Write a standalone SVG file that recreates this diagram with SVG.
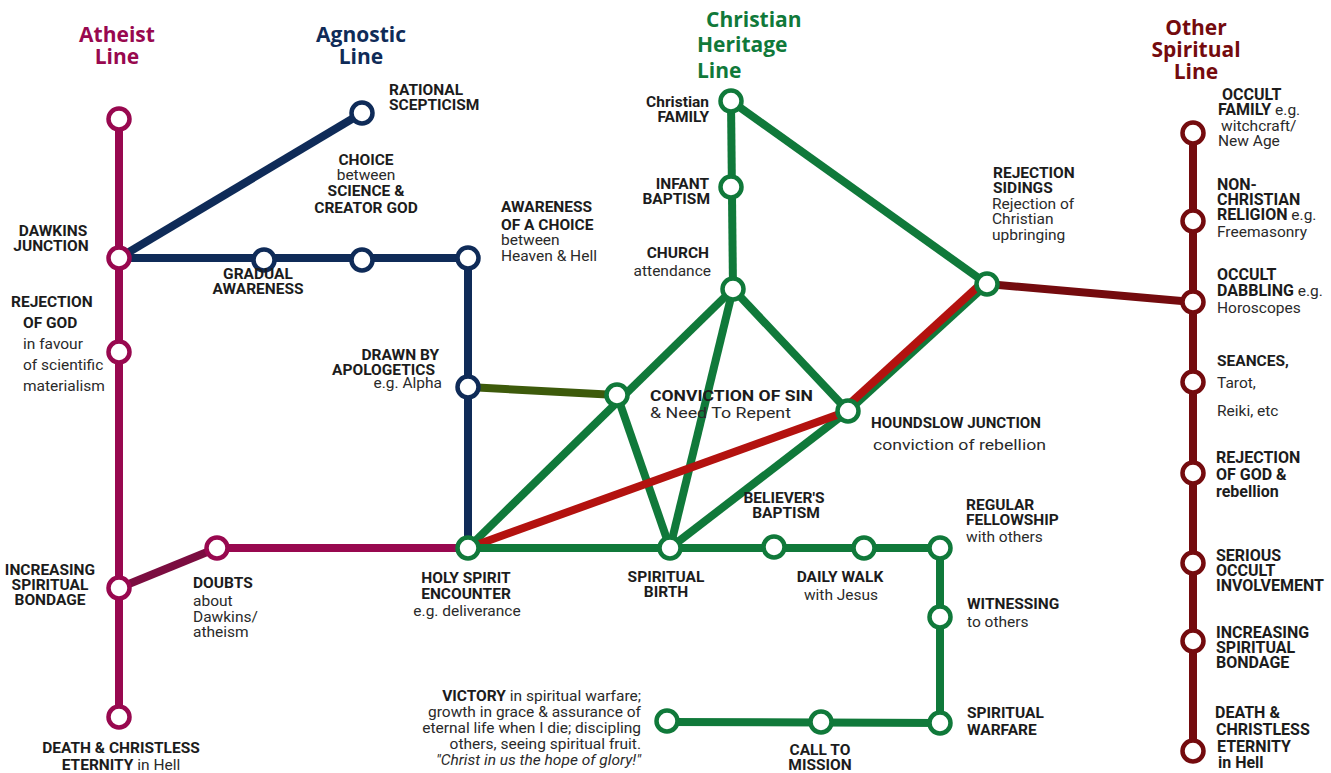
<svg xmlns="http://www.w3.org/2000/svg" width="1331" height="773" viewBox="0 0 1331 773">
<style>
.ln{fill:none;stroke-width:8;stroke-linecap:butt}
.st{fill:#fff;stroke-width:4.5}
.b{font-family:Roboto,"Liberation Sans",sans-serif;font-weight:700;font-size:15.5px;fill:#1c1c1c}
.r{font-family:Roboto,"Liberation Sans",sans-serif;font-weight:400;font-size:15.5px;fill:#2a2a2a}
.o{font-size:16px}
.t{font-family:"Open Sans","Liberation Sans",sans-serif;font-weight:700;font-size:21px}
.ath{stroke:#98084f}.agn{stroke:#0f2b58}.chr{stroke:#10793a}.oth{stroke:#740b0e}
</style>
<rect width="1331" height="773" fill="#fff"/>
<g id="titles">
<text class="t" fill="#98084f" text-anchor="middle"><tspan x="117" y="42">Atheist</tspan><tspan x="117" y="64">Line</tspan></text>
<text class="t" fill="#0f2b58" text-anchor="middle"><tspan x="361" y="42">Agnostic</tspan><tspan x="361" y="64">Line</tspan></text>
<text class="t" fill="#10793a"><tspan x="706" y="27">Christian</tspan><tspan x="697" y="52">Heritage</tspan><tspan x="697" y="78">Line</tspan></text>
<text class="t" fill="#740b0e" text-anchor="middle"><tspan x="1196" y="35">Other</tspan><tspan x="1196" y="57">Spiritual</tspan><tspan x="1196" y="79">Line</tspan></text>
</g>
<g id="connectors">
<line class="ln ath" x1="119" y1="119" x2="119" y2="717"/>
<line class="ln" stroke="#7b0d40" stroke-width="9" x1="119" y1="588" x2="217" y2="548"/>
<line class="ln ath" x1="217" y1="548" x2="468" y2="548"/>
<line class="ln agn" x1="119" y1="258" x2="362" y2="113"/>
<line class="ln agn" x1="119" y1="258" x2="468" y2="258"/>
<line class="ln agn" x1="468" y1="258" x2="468" y2="548"/>
<line class="ln" stroke="#3d5a0b" x1="468" y1="387" x2="617" y2="395"/>
<line class="ln chr" x1="731" y1="101" x2="733" y2="289"/>
<line class="ln chr" x1="731" y1="101" x2="987" y2="284"/>
<line class="ln chr" x1="468" y1="548" x2="733" y2="289"/>
<line class="ln chr" x1="617" y1="395" x2="670" y2="548"/>
<line class="ln chr" x1="733" y1="289" x2="670" y2="548"/>
<line class="ln chr" x1="733" y1="289" x2="848" y2="411"/>
<line class="ln chr" x1="848" y1="411" x2="670" y2="548"/>
<line class="ln chr" stroke-width="10" x1="848" y1="411" x2="987" y2="284"/>
<line class="ln" stroke="#b3120f" stroke-width="6" x1="845" y1="408" x2="984" y2="281"/>
<line class="ln" stroke="#b3120f" x1="468" y1="548" x2="848" y2="411"/>
<polyline class="ln chr" points="468,548 940,548 940,723 667,722"/>
<line class="ln oth" x1="1193" y1="133" x2="1193" y2="751"/>
<line class="ln oth" x1="987" y1="284" x2="1193" y2="302"/>
</g>
<g id="n-atheist-top"><circle class="st ath" cx="119" cy="119" r="10.5"/></g>
<g id="n-dawkins"><circle class="st ath" cx="119" cy="258" r="10.5"/>
<text class="b" text-anchor="middle"><tspan x="53" y="236">DAWKINS</tspan><tspan x="51" y="251">JUNCTION</tspan></text></g>
<g id="n-rejection-god"><circle class="st ath" cx="119" cy="352" r="10.5"/>
<text class="b"><tspan x="11" y="307">REJECTION</tspan><tspan x="23" y="328">OF GOD</tspan></text>
<text class="r"><tspan x="23" y="349">in favour</tspan><tspan x="23" y="370">of scientific</tspan><tspan x="23" y="391">materialism</tspan></text></g>
<g id="n-bondage-a"><circle class="st ath" cx="119" cy="588" r="10.5"/>
<text class="b" font-size="14.5" text-anchor="middle"><tspan x="50" y="575">INCREASING</tspan><tspan x="50" y="590">SPIRITUAL</tspan><tspan x="50" y="605">BONDAGE</tspan></text></g>
<g id="n-death-a"><circle class="st ath" cx="119" cy="717" r="10.5"/>
<text class="b" text-anchor="middle"><tspan x="121" y="753">DEATH &amp; CHRISTLESS</tspan><tspan x="121" y="770">ETERNITY<tspan class="r"> in Hell</tspan></tspan></text></g>
<g id="n-doubts"><circle class="st ath" cx="217" cy="548" r="10.5"/>
<text class="b" font-size="16" x="193" y="588">DOUBTS</text>
<text class="r" font-size="14.5"><tspan x="193" y="606">about</tspan><tspan x="193" y="622">Dawkins/</tspan><tspan x="193" y="637">atheism</tspan></text></g>
<g id="n-rational"><circle class="st agn" cx="362" cy="113" r="10.5"/>
<text class="b"><tspan x="389" y="95">RATIONAL</tspan><tspan x="389" y="110">SCEPTICISM</tspan></text></g>
<g id="n-choice-sci"><text class="b" text-anchor="middle"><tspan x="366" y="165">CHOICE</tspan><tspan class="r" x="366" y="180">between</tspan><tspan x="366" y="196">SCIENCE &amp;</tspan><tspan x="366" y="213">CREATOR GOD</tspan></text></g>
<g id="n-gradual"><circle class="st agn" cx="264" cy="260" r="10.5"/>
<text class="b" text-anchor="middle"><tspan x="258" y="279">GRADUAL</tspan><tspan x="258" y="294">AWARENESS</tspan></text></g>
<g id="n-choice-stop"><circle class="st agn" cx="362" cy="260" r="10.5"/></g>
<g id="n-awareness"><circle class="st agn" cx="468" cy="258" r="10.5"/>
<text class="b"><tspan x="501" y="212">AWARENESS</tspan><tspan x="501" y="230">OF A CHOICE</tspan></text>
<text class="r"><tspan x="501" y="245">between</tspan><tspan x="501" y="261">Heaven &amp; Hell</tspan></text></g>
<g id="n-drawn"><circle class="st agn" cx="468" cy="387" r="10.5"/>
<text class="b" text-anchor="end"><tspan x="439" y="360">DRAWN BY</tspan><tspan x="435" y="375">APOLOGETICS</tspan></text>
<text class="r" text-anchor="end" x="442" y="388">e.g. Alpha</text></g>
<g id="n-holy"><circle class="st chr" cx="468" cy="548" r="10.5"/>
<text class="b" text-anchor="middle"><tspan x="466" y="583">HOLY SPIRIT</tspan><tspan x="466" y="599">ENCOUNTER</tspan></text>
<text class="r" text-anchor="middle" x="467" y="616">e.g. deliverance</text></g>
<g id="n-family"><circle class="st chr" cx="731" cy="101" r="10.5"/>
<text class="b" font-size="15" text-anchor="end"><tspan x="709" y="107">Christian</tspan><tspan x="709" y="122">FAMILY</tspan></text></g>
<g id="n-infant"><circle class="st chr" cx="731" cy="187" r="10.5"/>
<text class="b" font-size="15.5" text-anchor="end"><tspan x="709" y="189">INFANT</tspan><tspan x="710" y="204">BAPTISM</tspan></text></g>
<g id="n-church"><circle class="st chr" cx="733" cy="289" r="10.5"/>
<text class="b" text-anchor="end" x="709" y="258">CHURCH</text>
<text class="r" font-size="14.5" text-anchor="end" x="711" y="276">attendance</text></g>
<g id="n-conviction"><circle class="st chr" cx="617" cy="395" r="10.5"/>
<text class="b" font-size="18.5" x="650" y="401" textLength="163" lengthAdjust="spacingAndGlyphs">CONVICTION OF SIN</text>
<text class="r" font-size="17.5" x="650" y="418" textLength="141" lengthAdjust="spacingAndGlyphs">&amp; Need To Repent</text></g>
<g id="n-houndslow"><circle class="st chr" cx="848" cy="411" r="10.5"/>
<text class="b" font-size="18.5" x="871" y="428" textLength="170" lengthAdjust="spacingAndGlyphs">HOUNDSLOW JUNCTION</text>
<text class="r" font-size="19" x="873" y="450" textLength="173" lengthAdjust="spacingAndGlyphs">conviction of rebellion</text></g>
<g id="n-sidings"><circle class="st chr" cx="987" cy="284" r="10.5"/>
<text class="b"><tspan x="993" y="178">REJECTION</tspan><tspan x="993" y="193">SIDINGS</tspan></text>
<text class="r"><tspan x="992" y="209">Rejection of</tspan><tspan x="992" y="224">Christian</tspan><tspan x="992" y="240">upbringing</tspan></text></g>
<g id="n-birth"><circle class="st chr" cx="670" cy="548" r="10.5"/>
<text class="b" text-anchor="middle"><tspan x="666" y="582">SPIRITUAL</tspan><tspan x="666" y="597">BIRTH</tspan></text></g>
<g id="n-baptism"><circle class="st chr" cx="774" cy="547" r="10.5"/>
<text class="b" font-size="15" text-anchor="middle"><tspan x="784" y="503">BELIEVER'S</tspan><tspan x="786" y="518">BAPTISM</tspan></text></g>
<g id="n-daily"><circle class="st chr" cx="864" cy="548" r="10.5"/>
<text class="b" text-anchor="middle" x="840" y="582">DAILY WALK</text>
<text class="r" text-anchor="middle" x="841" y="600">with Jesus</text></g>
<g id="n-fellowship"><circle class="st chr" cx="940" cy="548" r="10.5"/>
<text class="b"><tspan x="966" y="510">REGULAR</tspan><tspan x="966" y="525">FELLOWSHIP</tspan></text>
<text class="r" x="966" y="542">with others</text></g>
<g id="n-witness"><circle class="st chr" cx="940" cy="617" r="10.5"/>
<text class="b" x="967" y="609">WITNESSING</text>
<text class="r" x="967" y="627">to others</text></g>
<g id="n-warfare"><circle class="st chr" cx="940" cy="723" r="10.5"/>
<text class="b"><tspan x="967" y="718">SPIRITUAL</tspan><tspan x="967" y="735">WARFARE</tspan></text></g>
<g id="n-mission"><circle class="st chr" cx="821" cy="722" r="10.5"/>
<text class="b" text-anchor="middle"><tspan x="820" y="755">CALL TO</tspan><tspan x="820" y="770">MISSION</tspan></text></g>
<g id="n-victory"><circle class="st chr" cx="667" cy="721" r="10.5"/>
<text class="r" font-size="15" text-anchor="end"><tspan x="641" y="701"><tspan class="b" font-size="15">VICTORY</tspan> in spiritual warfare;</tspan><tspan x="641" y="717">growth in grace &amp; assurance of</tspan><tspan x="641" y="733">eternal life when I die; discipling</tspan><tspan x="641" y="749">others, seeing spiritual fruit.</tspan><tspan x="641" y="765" font-style="italic">"Christ in us the hope of glory!"</tspan></text></g>
<g id="n-occult-family"><circle class="st oth" cx="1193" cy="133" r="10.5"/>
<text class="b o"><tspan x="1222" y="100">OCCULT</tspan><tspan x="1218" y="115">FAMILY<tspan class="r" font-size="15"> e.g.</tspan></tspan></text>
<text class="r" font-size="14.5"><tspan x="1221" y="131">witchcraft/</tspan><tspan x="1218" y="146">New Age</tspan></text></g>
<g id="n-nonchristian"><circle class="st oth" cx="1193" cy="221" r="10.5"/>
<text class="b o"><tspan x="1217" y="190">NON-</tspan><tspan x="1217" y="205">CHRISTIAN</tspan><tspan x="1217" y="220">RELIGION<tspan class="r" font-size="15"> e.g.</tspan></tspan></text>
<text class="r" font-size="15" x="1217" y="237">Freemasonry</text></g>
<g id="n-dabbling"><circle class="st oth" cx="1193" cy="302" r="10.5"/>
<text class="b o"><tspan x="1217" y="280">OCCULT</tspan><tspan x="1217" y="296">DABBLING<tspan class="r" font-size="15"> e.g.</tspan></tspan></text>
<text class="r" font-size="15" x="1217" y="313">Horoscopes</text></g>
<g id="n-seances"><circle class="st oth" cx="1193" cy="382" r="10.5"/>
<text class="b" font-size="19" x="1217" y="366">SEANCES,</text>
<text class="r" font-size="18.5"><tspan x="1217" y="388">Tarot,</tspan><tspan x="1217" y="416">Reiki, etc</tspan></text></g>
<g id="n-rejection-o"><circle class="st oth" cx="1193" cy="473" r="10.5"/>
<text class="b o"><tspan x="1216" y="463">REJECTION</tspan><tspan x="1216" y="480">OF GOD &amp;</tspan><tspan x="1216" y="497">rebellion</tspan></text></g>
<g id="n-serious"><circle class="st oth" cx="1193" cy="563" r="10.5"/>
<text class="b o"><tspan x="1216" y="561">SERIOUS</tspan><tspan x="1216" y="576">OCCULT</tspan><tspan x="1216" y="591">INVOLVEMENT</tspan></text></g>
<g id="n-bondage-o"><circle class="st oth" cx="1193" cy="641" r="10.5"/>
<text class="b o"><tspan x="1216" y="638">INCREASING</tspan><tspan x="1216" y="653">SPIRITUAL</tspan><tspan x="1216" y="668">BONDAGE</tspan></text></g>
<g id="n-death-o"><circle class="st oth" cx="1193" cy="751" r="10.5"/>
<text class="b o"><tspan x="1215" y="718">DEATH &amp;</tspan><tspan x="1216" y="735">CHRISTLESS</tspan><tspan x="1217" y="752">ETERNITY</tspan><tspan x="1218" y="768">in Hell</tspan></text></g>
</svg>
